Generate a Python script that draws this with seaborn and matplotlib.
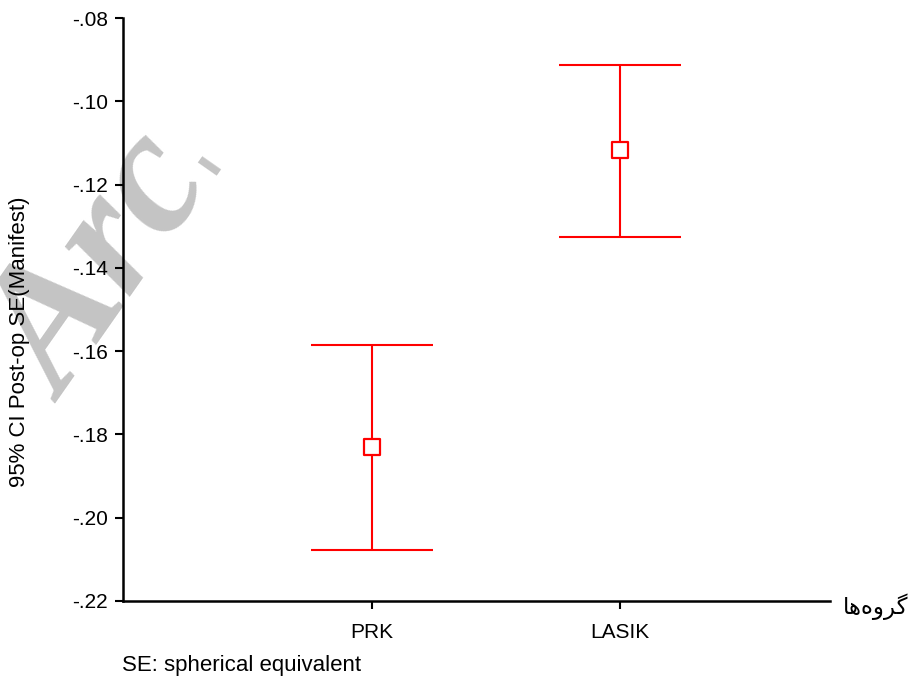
import numpy as np
import pandas as pd
import matplotlib
matplotlib.use("Agg")
import matplotlib.pyplot as plt
import seaborn as sns
from matplotlib.ticker import FuncFormatter

# 95% CI of post-op spherical equivalent (manifest)
groups = ["PRK", "LASIK"]
means = [-0.183, -0.1117]
ci_low = [-0.2078, -0.1326]
ci_high = [-0.1585, -0.0913]
y_ticks = [-0.22, -0.20, -0.18, -0.16, -0.14, -0.12, -0.10, -0.08]

xlabel_fa = "گروه‌ها"
ylabel = "95% CI Post-op SE(Manifest)"
caption = "SE: spherical equivalent"

sns.set_theme(style="white")
plt.rcParams['font.family'] = ['Liberation Sans', 'DejaVu Sans']


def shape_persian(word):
    # matplotlib has no arabic shaping / bidi, so use presentation forms in visual order
    if word == "گروه‌ها":
        return "\uFE8E\uFEEB\uFEE9\uFEED\uFEAE\uFB94"
    return word[::-1]


df = pd.DataFrame({"group": groups, "mean": means, "lo": ci_low, "hi": ci_high})

fig = plt.figure(figsize=(9.12, 6.8), dpi=100)
ax = fig.add_axes([123 / 912, 1 - 601 / 680, (830 - 123) / 912, (601 - 18) / 680])
ax.patch.set_alpha(0)  # let the watermark show behind the axes

red = "#ff0000"
xpos = np.arange(len(df))
ax.errorbar(xpos, df["mean"], yerr=[df["mean"] - df["lo"], df["hi"] - df["mean"]],
            fmt="none", ecolor=red, elinewidth=1.5, capsize=44, capthick=1.5, zorder=2)
sns.scatterplot(data=df, x="group", y="mean", marker="s", s=120, facecolor="white",
                edgecolor=red, linewidth=1.6, ax=ax, zorder=3, legend=False)

ax.set_xlim(-1.004, 1.847)
ax.set_ylim(-0.22, -0.08)
ax.set_yticks(y_ticks)
ax.yaxis.set_major_formatter(FuncFormatter(lambda v, p: f"{v:.2f}".replace("0.", ".")))
ax.set_xticks(xpos)
ax.set_xticklabels(groups)

for side in ["top", "right"]:
    ax.spines[side].set_visible(False)
for side in ["left", "bottom"]:
    ax.spines[side].set_color("black")
    ax.spines[side].set_linewidth(1.8)
ax.tick_params(axis="both", which="major", direction="out", length=6, width=1.5,
               color="black", labelcolor="black", labelsize=15, pad=5,
               left=True, bottom=True)
ax.tick_params(axis="x", pad=10)

ax.set_xlabel("")
ax.set_ylabel("")
fig.text(20 / 912, 1 - 342 / 680, ylabel, rotation=90, ha="center", va="center",
         fontsize=16, color="black")

fig.text(843 / 912, 1 - 607 / 680, shape_persian(xlabel_fa), ha="left", va="center",
         fontsize=16.5, color="black", family=["DejaVu Sans"])
fig.text(122 / 912, 1 - 665 / 680, caption, ha="left", va="center",
         fontsize=16, color="black")

# faint watermark in the upper left, drawn under the axes
fig.text(-0.041, 0.43, "Arc", fontsize=128, family=["Liberation Serif"], style="italic",
         weight="bold", color="#c4c4c4", rotation=55, ha="left", va="baseline", zorder=-1)
fig.text(150 / 912, 1 - 182 / 680, "\u02cc", fontsize=60, family=["DejaVu Sans"],
         weight="bold", color="#c4c4c4", rotation=55, ha="left", va="bottom", zorder=-1)

fig.savefig("out.png", dpi=100, facecolor="white")
